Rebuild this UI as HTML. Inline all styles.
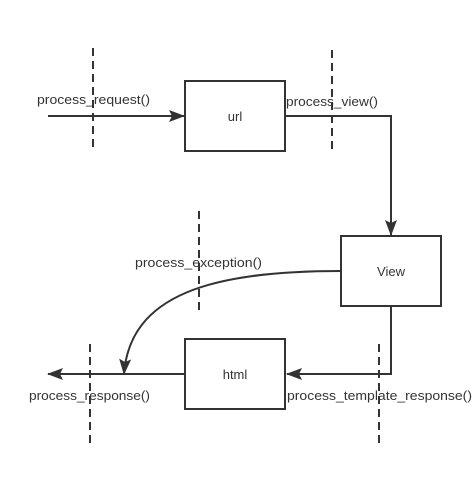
<!DOCTYPE html>
<html><head><meta charset="utf-8"><style>html,body{margin:0;padding:0;background:#fff}svg{display:block}</style></head>
<body>
<svg width="473" height="478" viewBox="0 0 473 478" xmlns="http://www.w3.org/2000/svg">
<defs>
<marker id="b" viewBox="0 0 16 12" refX="15" refY="6" markerWidth="16" markerHeight="12" orient="auto" markerUnits="userSpaceOnUse"><path d="M0,0 L16,6 L0,12 L3,6 z" fill="#333"/></marker></defs>
<g stroke="#333" stroke-width="2" fill="none" stroke-dasharray="8,5">
<line x1="93" y1="48" x2="93" y2="150"/>
<line x1="332" y1="50" x2="332" y2="152"/>
<line x1="199" y1="211" x2="199" y2="312"/>
<line x1="90" y1="344" x2="90" y2="445"/>
<line x1="379" y1="344" x2="379" y2="445"/>
</g>
<g stroke="#333" stroke-width="2" fill="none">
<rect x="185" y="81" width="100" height="70" fill="#fff"/>
<rect x="341" y="236" width="100" height="70" fill="#fff"/>
<rect x="185" y="339" width="100" height="70" fill="#fff"/>
<line x1="48" y1="116" x2="184" y2="116" marker-end="url(#b)"/>
<polyline points="285,116 391,116 391,235" marker-end="url(#b)"/>
<polyline points="391,306 391,374 287,374" marker-end="url(#b)"/>
<line x1="185" y1="374" x2="48" y2="374" marker-end="url(#b)"/>
<path d="M341,271 C210,271 130,295 124,374" marker-end="url(#b)"/>
</g>
<g font-family="Liberation Sans, sans-serif" font-size="13" fill="#333">
<text x="37" y="104" textLength="113" lengthAdjust="spacingAndGlyphs">process_request()</text>
<text x="286" y="106" textLength="92" lengthAdjust="spacingAndGlyphs">process_view()</text>
<text x="135" y="267" textLength="127" lengthAdjust="spacingAndGlyphs">process_exception()</text>
<text x="29" y="400" textLength="121" lengthAdjust="spacingAndGlyphs">process_response()</text>
<text x="287" y="400" textLength="185" lengthAdjust="spacingAndGlyphs">process_template_response()</text>
<text x="235" y="121" text-anchor="middle">url</text>
<text x="391" y="276" text-anchor="middle">View</text>
<text x="235" y="379" text-anchor="middle">html</text>
</g>
</svg>
</body></html>
